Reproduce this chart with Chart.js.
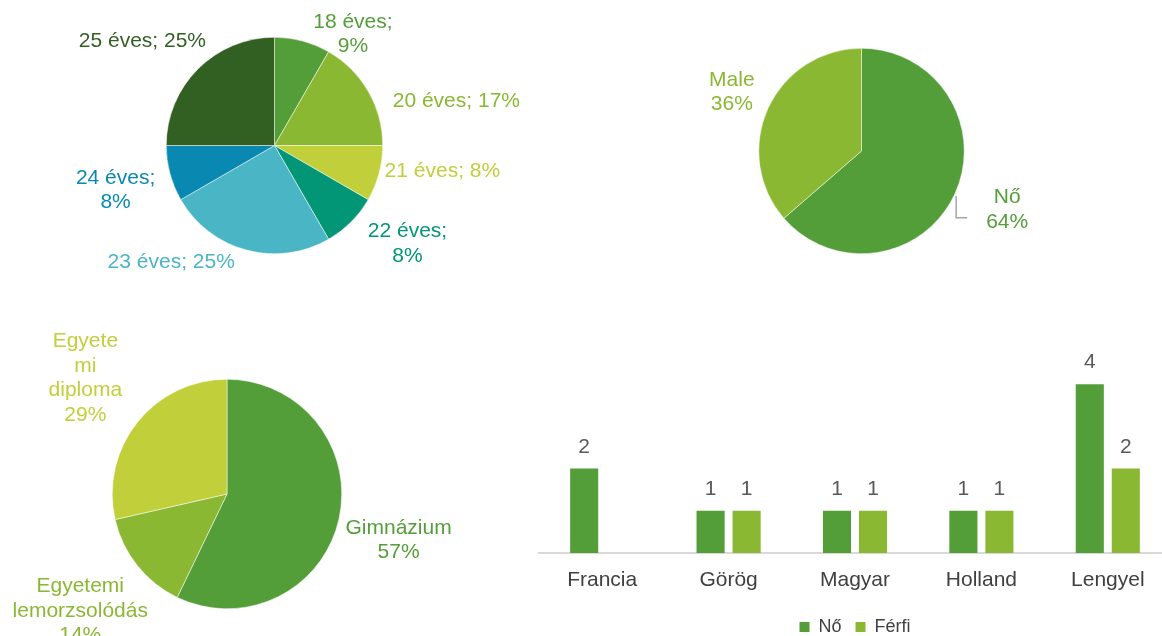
<!DOCTYPE html>
<html lang="hu">
<head>
<meta charset="utf-8">
<script src="https://cdn.jsdelivr.net/npm/chart.js@4.4.1/dist/chart.umd.min.js"></script>
<style>
    html, body { margin: 0; padding: 0; background: #fff; }
    body { width: 1162px; height: 636px; overflow: hidden; position: relative; }
    canvas.full { position: absolute; left: 0; top: 0; }
    #barBox { position: absolute; left: 500px; top: 320px; width: 720px; height: 326px; }
</style>
</head>
<body>
<canvas id="korChart" class="full" width="1162" height="636"></canvas>
<canvas id="nemChart" class="full" width="1162" height="636"></canvas>
<canvas id="vegzettsegChart" class="full" width="1162" height="636"></canvas>
<div id="barBox"><canvas id="nemzetisegChart" width="720" height="326"></canvas></div>
<script>
// életkor
const korLabels = ['18 éves', '20 éves', '21 éves', '22 éves', '23 éves', '24 éves', '25 éves'];
const korValues = [1, 2, 1, 1, 3, 1, 3];
const korPercent = ['9%', '17%', '8%', '8%', '25%', '8%', '25%'];

// nem
const nemLabels = ['Nő', 'Male'];
const nemValues = [7, 4];
const nemPercent = ['64%', '36%'];

// végzettség
const vegzettsegLabels = ['Gimnázium', 'Egyetemi lemorzsolódás', 'Egyetemi diploma'];
const vegzettsegValues = [8, 2, 4];
const vegzettsegPercent = ['57%', '14%', '29%'];

// nemzetiség
const nemzetisegek = ['Francia', 'Görög', 'Magyar', 'Holland', 'Lengyel'];
const noValues = [2, 1, 1, 1, 4];
const ferfiValues = [null, 1, 1, 1, 2];

const W = 1162;
const H = 636;
const FONT = '"Liberation Sans", Arial, Helvetica, sans-serif';
Chart.defaults.font.family = FONT;

const pieLabels = {
    id: 'pieLabels',
    afterDatasetsDraw(chart, args, opts) {
        const ctx = chart.ctx;
        const ds = chart.data.datasets[0];
        const meta = chart.getDatasetMeta(0);
        ctx.save();
        ctx.font = '21px ' + FONT;
        ctx.textAlign = 'center';
        ctx.textBaseline = 'middle';
        meta.data.forEach((arc, i) => {
            const [deg, k] = opts.place[i];
            const a = (deg - 90) * Math.PI / 180;
            const x = arc.x + Math.cos(a) * arc.outerRadius * k;
            const y = arc.y + Math.sin(a) * arc.outerRadius * k;
            const lines = opts.lines[i];
            const lh = 24.5;
            const y0 = y - (lines.length - 1) * lh / 2;
            ctx.fillStyle = ds.backgroundColor[i];
            lines.forEach((t, j) => ctx.fillText(t, x, y0 + j * lh));

            if (opts.leader === i) {
                const lw = Math.max(...lines.map(t => ctx.measureText(t).width));
                const lx = x - lw / 2 - 19;
                const ly = y + 8;
                const vx = lx - 11;
                const dy = Math.sqrt(Math.max(arc.outerRadius * arc.outerRadius - (vx - arc.x) * (vx - arc.x), 0));
                ctx.strokeStyle = '#A6A6A6';
                ctx.lineWidth = 1.5;
                ctx.beginPath();
                ctx.moveTo(lx, ly);
                ctx.lineTo(vx, ly);
                ctx.lineTo(vx, arc.y + dy + 5);
                ctx.stroke();
            }
        });
        ctx.restore();
    }
};

function pieConfig(labels, values, colors, cx, cy, r, place, lines, leader) {
    return {
        type: 'pie',
        data: {
            labels: labels,
            datasets: [{
                data: values,
                backgroundColor: colors,
                borderColor: '#ffffff',
                borderWidth: 0.5,
                hoverOffset: 0
            }]
        },
        options: {
            responsive: false,
            animation: false,
            events: [],
            layout: {
                padding: { left: cx - r, right: W - cx - r, top: cy - r, bottom: H - cy - r }
            },
            plugins: {
                legend: { display: false },
                tooltip: { enabled: false },
                pieLabels: { place: place, lines: lines, leader: leader }
            }
        },
        plugins: [pieLabels]
    };
}

const korLines = korLabels.map((l, i) => [0, 3, 5].includes(i) ? [l + ';', korPercent[i]] : [l + '; ' + korPercent[i]]);
new Chart(document.getElementById('korChart'), pieConfig(
    korLabels, korValues,
    ['#549E39', '#8AB833', '#C0CF3A', '#029676', '#4AB5C4', '#0989B1', '#325F22'],
    274.5, 145.5, 108.5,
    [[35.2, 1.257], [76.2, 1.73], [98.7, 1.569], [126.5, 1.528], [221.4, 1.443], [254.3, 1.525], [308.3, 1.555]],
    korLines, -1
));

const nemLines = nemLabels.map((l, i) => [l, nemPercent[i]]);
new Chart(document.getElementById('nemChart'), pieConfig(
    nemLabels, nemValues,
    ['#549E39', '#8AB833'],
    861.5, 151, 103,
    [[112, 1.529], [294.4, 1.386]],
    nemLines, 0
));

const vegzettsegLines = [
    [vegzettsegLabels[0], vegzettsegPercent[0]],
    [...vegzettsegLabels[1].split(' '), vegzettsegPercent[1]],
    ['Egyete', 'mi', 'diploma', vegzettsegPercent[2]]
];
new Chart(document.getElementById('vegzettsegChart'), pieConfig(
    vegzettsegLabels, vegzettsegValues,
    ['#549E39', '#8AB833', '#C0CF3A'],
    227, 494, 115,
    [[105, 1.548], [231.5, 1.634], [309.3, 1.595]],
    vegzettsegLines, -1
));

const barValues = {
    id: 'barValues',
    afterDatasetsDraw(chart) {
        const ctx = chart.ctx;
        ctx.save();
        ctx.font = '21px ' + FONT;
        ctx.fillStyle = '#595959';
        ctx.textAlign = 'center';
        ctx.textBaseline = 'alphabetic';
        chart.data.datasets.forEach((ds, di) => {
            chart.getDatasetMeta(di).data.forEach((bar, i) => {
                const v = ds.data[i];
                if (v === null || v === undefined) return;
                ctx.fillText(String(v), bar.x, bar.y - 16);
            });
        });
        ctx.restore();
    }
};

new Chart(document.getElementById('nemzetisegChart'), {
    type: 'bar',
    data: {
        labels: nemzetisegek,
        datasets: [{
            label: 'Nő',
            data: noValues,
            backgroundColor: '#549E39',
            categoryPercentage: 0.57,
            barPercentage: 0.78
        }, {
            label: 'Férfi',
            data: ferfiValues,
            backgroundColor: '#8AB833',
            categoryPercentage: 0.57,
            barPercentage: 0.78
        }]
    },
    options: {
        responsive: false,
        animation: false,
        events: [],
        layout: {
            padding: { left: 39, right: 49, top: 22, bottom: 0 }
        },
        scales: {
            x: {
                grid: { display: false },
                border: { color: '#D9D9D9', width: 2 },
                ticks: {
                    color: '#404040',
                    font: { size: 21 },
                    padding: 7,
                    maxRotation: 0
                },
                afterFit: (scale) => { scale.height = 51; }
            },
            y: {
                display: false,
                min: 0,
                max: 5
            }
        },
        plugins: {
            legend: {
                position: 'bottom',
                labels: {
                    boxWidth: 10,
                    boxHeight: 10,
                    color: '#404040',
                    font: { size: 18 },
                    padding: 14
                }
            },
            tooltip: { enabled: false }
        }
    },
    plugins: [barValues]
});
</script>
</body>
</html>
